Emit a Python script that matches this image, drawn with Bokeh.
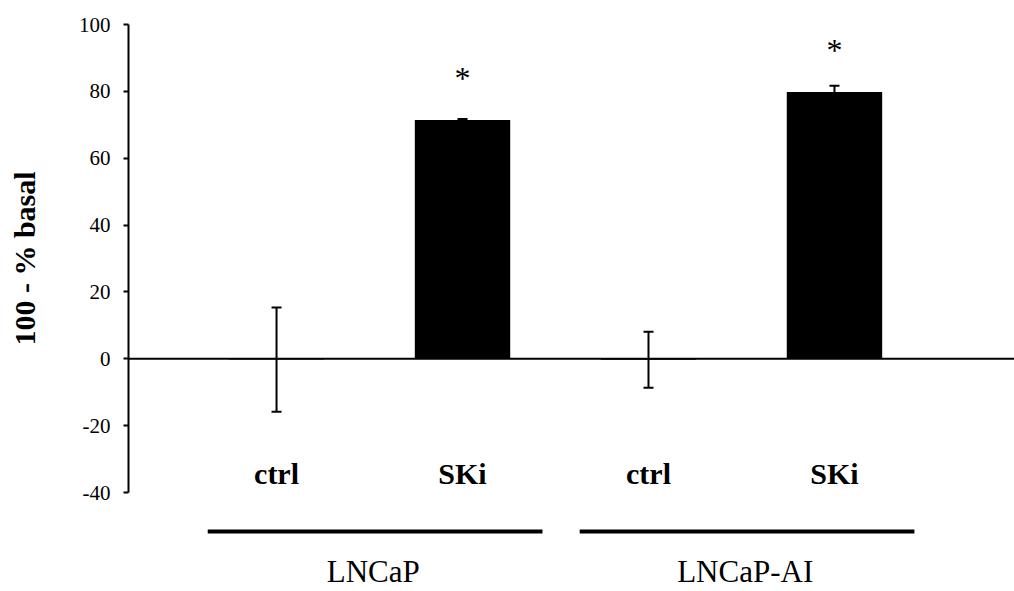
from bokeh.plotting import figure
from bokeh.layouts import column
from bokeh.models import Range1d, FixedTicker, Whisker, TeeHead, ColumnDataSource, Span
from bokeh.core.properties import value
from bokeh.embed import file_html
from bokeh.resources import INLINE

# ---- data ----
categories = ["ctrl", "SKi", "ctrl", "SKi"]
groups = ["LNCaP", "LNCaP-AI"]
group_members = [[0, 1], [2, 3]]
means = [-0.25, 71.4, -0.3, 79.8]
errors = [15.6, 0.3, 8.4, 1.9]
significant = [False, True, False, True]
star_levels = [84.6, 93.0]
y_ticks = [-40, -20, 0, 20, 40, 60, 80, 100]
y_tick_labels = ["-40", "-20", "0", "20", "40", "60", "80", "100"]
y_title = "100 - % basal"

SERIF = "Liberation Serif"
W = 1014
xs = list(range(len(categories)))
x_range = Range1d(-0.796, 3.968)

# ---------------- main chart ----------------
p = figure(width=W, height=504,
           x_range=x_range, y_range=Range1d(y_ticks[0], y_ticks[-1]),
           output_backend="svg", toolbar_location=None,
           x_axis_location=None,
           min_border_left=128, min_border_right=0,
           min_border_top=24, min_border_bottom=12)
p.xgrid.visible = False
p.ygrid.visible = False
p.outline_line_color = None
p.background_fill_color = "white"
p.border_fill_color = "white"

ax = p.yaxis[0]
ax.ticker = FixedTicker(ticks=y_ticks)
ax.major_label_overrides = {t: s for t, s in zip(y_ticks, y_tick_labels)}
ax.axis_line_width = 2
ax.axis_line_color = "black"
ax.major_tick_out = 5
ax.major_tick_in = 0
ax.major_tick_line_width = 2
ax.major_tick_line_color = "black"
ax.minor_tick_line_color = None
ax.major_label_text_font = SERIF
ax.major_label_text_font_size = "21px"
ax.major_label_text_color = "black"
ax.major_label_standoff = 13
ax.axis_label = y_title
ax.axis_label_text_font = SERIF
ax.axis_label_text_font_size = "30px"
ax.axis_label_text_font_style = "bold"
ax.axis_label_text_color = "black"
ax.axis_label_standoff = 35

# zero line
p.add_layout(Span(location=0, dimension="width", line_color="black", line_width=2))

# bars
src = ColumnDataSource(dict(
    x=xs, top=means,
    upper=[m + e for m, e in zip(means, errors)],
    lower=[m - e for m, e in zip(means, errors)],
))
p.vbar(x="x", top="top", bottom=0, width=0.513, source=src,
       fill_color="black", line_color=None)

# error bars
p.add_layout(Whisker(source=src, base="x", upper="upper", lower="lower",
                     dimension="height", line_color="black", line_width=2,
                     upper_head=TeeHead(size=10, line_width=2, line_color="black"),
                     lower_head=TeeHead(size=10, line_width=2, line_color="black")))

# significance asterisks
sx = [x for x, s in zip(xs, significant) if s]
p.text(x=sx, y=star_levels, text=["*"] * len(sx), text_font=value(SERIF),
       text_font_size="32px", text_align="center", text_baseline="alphabetic",
       y_offset=2, text_color="black")

# category labels (inside the plot, at the low end)
p.text(x=xs, y=[-38.0] * len(xs), text=categories, text_font=value(SERIF),
       text_font_size="30px", text_font_style="bold", text_align="center",
       text_baseline="alphabetic", y_offset=-12, text_color="black")

# ---------------- group strip below ----------------
q = figure(width=W, height=87, x_range=x_range, y_range=Range1d(0, 87),
           output_backend="svg", toolbar_location=None,
           x_axis_location=None, y_axis_location=None,
           min_border_left=128, min_border_right=0,
           min_border_top=0, min_border_bottom=0)
q.xgrid.visible = False
q.ygrid.visible = False
q.outline_line_color = None
q.background_fill_color = "white"
q.border_fill_color = "white"

gc = [sum(m) / len(m) + 0.03 for m in group_members]
q.segment(x0=[c - 0.9 for c in gc], x1=[c + 0.9 for c in gc],
          y0=[60] * len(gc), y1=[60] * len(gc),
          line_color="black", line_width=4)
q.text(x=[c - 0.01 for c in gc], y=[7] * len(gc), text=groups,
       text_font=value(SERIF), text_font_size="31px", text_align="center",
       text_baseline="alphabetic", y_offset=-13, text_color="black")

layout = column(p, q, spacing=0)
open("out.html", "w").write(file_html(layout, INLINE))
